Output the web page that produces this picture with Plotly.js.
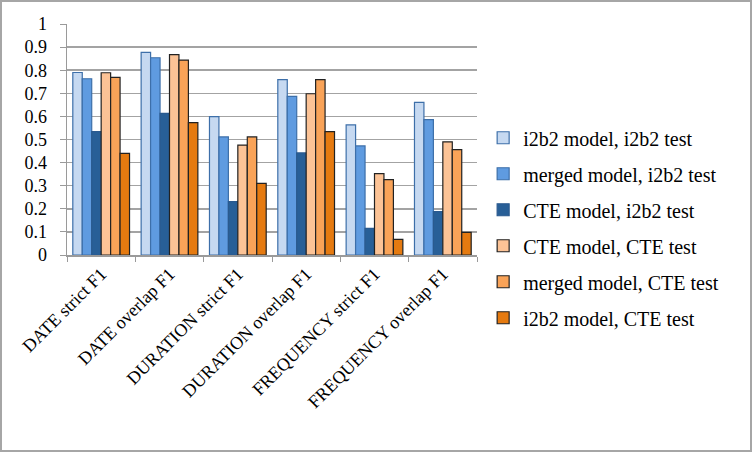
<!DOCTYPE html>
<html>
<head>
<meta charset="utf-8">
<script src="https://cdn.plot.ly/plotly-3.0.1.min.js"></script>
<style>
html,body{margin:0;padding:0;background:#fff;}
#wrap{position:relative;width:752px;height:452px;}
#chart{position:absolute;left:0;top:0;width:752px;height:452px;}
#frame{position:absolute;left:0;top:0;width:752px;height:452px;box-sizing:border-box;border:2px solid #a6a6a6;pointer-events:none;}
</style>
</head>
<body>
<div id="wrap"><div id="chart"></div><div id="frame"></div></div>
<script>
const categories = ["DATE strict F1","DATE overlap F1","DURATION strict F1","DURATION overlap F1","FREQUENCY strict F1","FREQUENCY overlap F1"];
const seriesNames = ["i2b2 model, i2b2 test","merged model, i2b2 test","CTE model, i2b2 test","CTE model, CTE test","merged model, CTE test","i2b2 model, CTE test"];
const i2b2_i2b2   = [0.79, 0.877, 0.599, 0.759, 0.563, 0.661];
const merged_i2b2 = [0.763, 0.854, 0.511, 0.687, 0.472, 0.586];
const cte_i2b2    = [0.534, 0.613, 0.231, 0.442, 0.115, 0.188];
const cte_cte     = [0.789, 0.867, 0.476, 0.698, 0.352, 0.49];
const merged_cte  = [0.769, 0.844, 0.511, 0.759, 0.326, 0.456];
const i2b2_cte    = [0.44, 0.573, 0.31, 0.534, 0.068, 0.098];
const yTicks = [0,0.1,0.2,0.3,0.4,0.5,0.6,0.7,0.8,0.9,1];
const yTickLabels = ["0","0.1","0.2","0.3","0.4","0.5","0.6","0.7","0.8","0.9","1"];

const values = [i2b2_i2b2, merged_i2b2, cte_i2b2, cte_cte, merged_cte, i2b2_cte];
const fills = ["#c6d9f1","#5f9be0","#285f97","#fcc396","#f9a358","#e57a10"];
const lines = ["#3d6fa9","#3d6fa9","#2a5a8f","#222222","#222222","#222222"];

const traces = values.map((v,i)=>({
  type:"bar",
  name:seriesNames[i],
  x:categories,
  y:v,
  legendgroup:"g"+i,
  marker:{color:fills[i], line:{color:lines[i], width:1.2}},
  hoverinfo:"skip"
}));

const pad = "\u00a0\u00a0";
const layout = {
  width:752, height:452,
  paper_bgcolor:"#fff", plot_bgcolor:"#fff",
  margin:{l:67,r:275,t:24,b:197,pad:0},
  barmode:"group",
  bargap:0.17,
  bargroupgap:0,
  font:{family:"Liberation Serif, Times New Roman, serif", size:18, color:"#000"},
  showlegend:true,
  legend:{x:1.015, xanchor:"left", y:0.592, yanchor:"top",
          font:{family:"Liberation Serif, Times New Roman, serif", size:20, color:"#000"},
          tracegroupgap:7, traceorder:"grouped", itemwidth:30, bgcolor:"rgba(0,0,0,0)"},
  xaxis:{type:"category", tickangle:-45, tickson:"boundaries", ticks:"outside", ticklen:5,
         tickcolor:"#9a9a9a", showline:true, linecolor:"#9a9a9a", linewidth:1.5, showgrid:false,
         tickfont:{family:"Liberation Serif, Times New Roman, serif", size:18, color:"#000"}},
  yaxis:{range:[0,1], tickvals:yTicks, ticktext:yTickLabels.map(t=>t+pad), ticks:"outside", ticklen:6,
         tickcolor:"#9a9a9a", showline:true, linecolor:"#9a9a9a", linewidth:1.5,
         showgrid:true, gridcolor:"#a3a3a3", gridwidth:1.5, zeroline:false,
         tickfont:{family:"Liberation Serif, Times New Roman, serif", size:18, color:"#000"}}
};
Plotly.newPlot("chart", traces, layout, {displayModeBar:false, staticPlot:true});
</script>
</body>
</html>
